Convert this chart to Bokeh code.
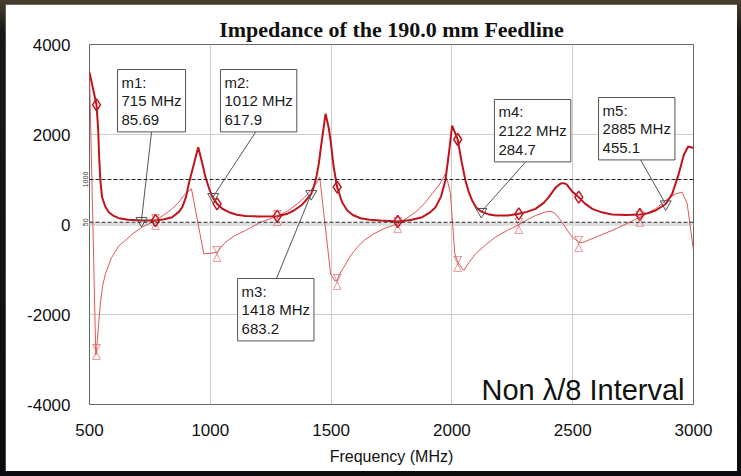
from bokeh.plotting import figure
from bokeh.models import Range1d, FixedTicker, Span, Label, ColumnDataSource, Column, LinearAxis
from bokeh.embed import file_html
from bokeh.resources import INLINE
from bokeh.core.properties import value

# ---------------- data ----------------
mag_freq = [500, 529, 536, 540, 545, 552, 565, 580, 600, 621, 660, 718, 773, 810, 842, 870,
            884, 900, 911, 930, 950, 965, 980, 995, 1008, 1028, 1050, 1077, 1110, 1146, 1200,
            1277, 1320, 1346, 1380, 1401, 1418, 1428, 1440, 1449, 1460, 1477, 1490, 1498, 1510,
            1525, 1545, 1567, 1590, 1622, 1660, 1704, 1776, 1830, 1877, 1910, 1932, 1955, 1973,
            1988, 2001, 2024, 2040, 2056, 2070, 2084, 2100, 2122, 2150, 2180, 2230, 2277, 2310,
            2346, 2380, 2401, 2429, 2450, 2463, 2475, 2500, 2525, 2550, 2581, 2620, 2663, 2720,
            2778, 2810, 2843, 2885, 2912, 2939, 2960, 2978, 3000]
mag_val = [3380, 2660, 2100, 1500, 980, 610, 400, 273, 190, 140, 105, 89, 89, 115, 163, 280,
           385, 620, 904, 1300, 1719, 1400, 1052, 800, 620, 459, 350, 273, 215, 190, 180,
           185, 240, 311, 440, 570, 683, 830, 1080, 1348, 1800, 2459, 2150, 1867, 1300,
           830, 500, 311, 210, 140, 105, 89, 67, 100, 163, 270, 385, 620, 978,
           1600, 2200, 1889, 1400, 978, 720, 533, 380, 285, 230, 200, 200, 237, 280,
           348, 480, 607, 820, 910, 919, 890, 720, 607, 470, 348, 270, 222, 210,
           222, 250, 311, 455, 681, 1126, 1550, 1733, 1700]

react_freq = [500, 526, 529, 538, 545, 555, 566, 590, 620, 645, 680, 718, 773, 810, 842, 870,
              897, 922, 973, 1000, 1028, 1045, 1063, 1100, 1146, 1208, 1277, 1320, 1360, 1390,
              1415, 1440, 1453, 1498, 1515, 1525, 1535, 1553, 1580, 1608, 1640, 1677, 1720, 1776,
              1810, 1849, 1885, 1918, 1950, 1973, 1985, 1994, 2012, 2024, 2049, 2070, 2098, 2140,
              2180, 2230, 2277, 2310, 2346, 2387, 2410, 2429, 2456, 2477, 2498, 2525, 2540, 2600,
              2663, 2720, 2778, 2843, 2884, 2926, 2953, 2974, 3000]
react_val = [3380, -2900, -2800, -2200, -1750, -1350, -1096, -750, -480, -370, -200, -59, 89, 220,
             348, 500, 681, 793, -652, -640, -615, -500, -393, -250, -133, 52, 185, 300, 459, 600,
             756, 920, 1052, -1100, -1250, -1244, -1100, -948, -700, -504, -340, -207, -90, 15,
             130, 273, 460, 681, 900, 1126, 900, 681, -652, -837, -1022, -850, -652, -450,
             -281, -130, -7, 100, 200, 280, 296, 237, 52, -120, -281, -393, -405, -270,
             -133, 10, 163, 348, 533, 681, 719, 459, -578]

sample_freq = [529, 773, 1028, 1277, 1525, 1776, 2024, 2277, 2525, 2778]
sample_mag = [2660, 89, 459, 185, 830, 67, 1889, 237, 607, 222]
sample_react = [-2800, 89, -615, 185, -1244, 15, -837, -7, -393, 163]

marker_names = ["m1", "m2", "m3", "m4", "m5"]
marker_freq = [715, 1012, 1418, 2122, 2885]
marker_val = [85.69, 617.9, 683.2, 284.7, 455.1]

x_ticks = [500, 1000, 1500, 2000, 2500, 3000]
y_ticks = [-4000, -2000, 0, 2000, 4000]
y_tick_labels = ["-4000", "-2000", "0", "2000", "4000"]
ref_levels = [50, 1000]
ref_labels = ["50", "1000"]

title_text = "Impedance of the 190.0 mm Feedline"
x_label = "Frequency (MHz)"
note_text = "Non \u03bb/8 Interval"

# ---------------- layout / style ----------------
box_left = [616, 1042, 1113, 2176, 2607]
box_top = [3444, 3444, -1200, 2778, 2822]
lead_f = [759, 1200, 1274, 2329, 2768]
lead_v = [2156, 2156, -1200, 1533, 1556]

THICK = "#c0141c"
THIN = "#e0575a"
GREY = "#555555"
SANS = "Liberation Sans"

p = figure(width=732, height=467, output_backend="svg", toolbar_location=None,
           x_range=Range1d(500, 3000), y_range=Range1d(-4000, 4000),
           min_border_left=84, min_border_right=44, min_border_top=40, min_border_bottom=67,
           title=title_text)
p.title.align = "center"
p.title.text_font = "Liberation Serif"
p.title.text_font_size = "22px"
p.title.text_font_style = "bold"
p.title.text_color = "#111111"
p.title.standoff = 6
p.background_fill_color = "white"
p.border_fill_color = "white"
p.outline_line_color = "#666666"
p.outline_line_width = 1

# small axis with the reference-level labels, right next to the frame
ref_axis = LinearAxis(ticker=FixedTicker(ticks=ref_levels),
                      major_label_overrides={lv: lt for lv, lt in zip(ref_levels, ref_labels)},
                      major_label_orientation="vertical", major_label_standoff=2,
                      major_label_text_font=SANS, major_label_text_font_size="7px",
                      major_label_text_color="#333333", axis_line_color=None,
                      major_tick_line_color=None, minor_tick_line_color=None,
                      major_tick_out=0, major_tick_in=0)
p.left.insert(0, ref_axis)

p.xaxis.ticker = FixedTicker(ticks=x_ticks)
main_y = p.yaxis[1] if p.yaxis[0] is ref_axis else p.yaxis[0]
main_y.ticker = FixedTicker(ticks=y_ticks)
main_y.major_label_overrides = {t: s for t, s in zip(y_ticks, y_tick_labels)}
for ax in (p.xaxis[0], main_y):
    ax.axis_line_color = None
    ax.major_tick_line_color = None
    ax.minor_tick_line_color = None
    ax.major_label_text_font = SANS
    ax.major_label_text_font_size = "17px"
    ax.major_label_text_color = "#111111"
    ax.major_tick_out = 0
    ax.major_tick_in = 0
p.xaxis.major_label_standoff = 19
main_y.major_label_standoff = 9
p.xaxis.axis_label = x_label
p.xaxis.axis_label_text_font = SANS
p.xaxis.axis_label_text_font_size = "16px"
p.xaxis.axis_label_text_font_style = "normal"
p.xaxis.axis_label_text_color = "#111111"
p.xaxis.axis_label_standoff = 9

p.xgrid.ticker = FixedTicker(ticks=x_ticks)
p.ygrid.ticker = FixedTicker(ticks=y_ticks)
p.grid.grid_line_color = "#cccccc"
p.grid.grid_line_width = 1

p.add_layout(Span(location=0, dimension="width", line_color="#dedede", line_width=3, level="underlay"))
for lv in ref_levels:
    p.add_layout(Span(location=lv, dimension="width", line_color="#222222", line_width=1,
                      line_dash="4 2"))

p.line(react_freq, react_val, line_color=THIN, line_width=1)
p.line(mag_freq, mag_val, line_color=THICK, line_width=2)

p.scatter(sample_freq, sample_mag, marker="diamond", size=12, fill_color=None,
          line_color=THICK, line_width=1.5)
hsrc = ColumnDataSource(dict(f=sample_freq, v=sample_react))
p.text(x="f", y="v", text=value("\u25bd"), source=hsrc, text_font=value("DejaVu Sans"),
       text_font_size="11px", text_align="center", text_baseline="middle", y_offset=-3,
       text_color=THIN)
p.text(x="f", y="v", text=value("\u25b3"), source=hsrc, text_font=value("DejaVu Sans"),
       text_font_size="11px", text_align="center", text_baseline="middle", y_offset=4,
       text_color=THIN)

p.segment(x0=lead_f, y0=lead_v, x1=marker_freq, y1=marker_val, line_color=GREY, line_width=1)
p.scatter(marker_freq, marker_val, marker="inverted_triangle", size=11, fill_color=None,
          line_color=GREY, line_width=1)

for name, f, v, bx, by in zip(marker_names, marker_freq, marker_val, box_left, box_top):
    p.add_layout(Label(x=bx, y=by, text=f"{name}:\n{f} MHz\n{v}", anchor="top_left",
                       text_font=SANS, text_font_size="15px", text_color="#1a1a1a",
                       text_line_height=1.1, padding=4, background_fill_color="white",
                       border_line_color=GREY, border_line_width=1))

p.add_layout(Label(x=2963, y=-3667, text=note_text, text_font=SANS, text_font_size="29px",
                   text_color="#111111", text_align="right", text_baseline="alphabetic"))

page = Column(children=[p], styles={
    "background": "linear-gradient(to bottom, #4a3f2f 0px, #1a1917 30px, #0c0c0e 100%)",
    "padding": "4px 4px 5px 5px"})

open("out.html", "w").write(file_html(page, INLINE))
